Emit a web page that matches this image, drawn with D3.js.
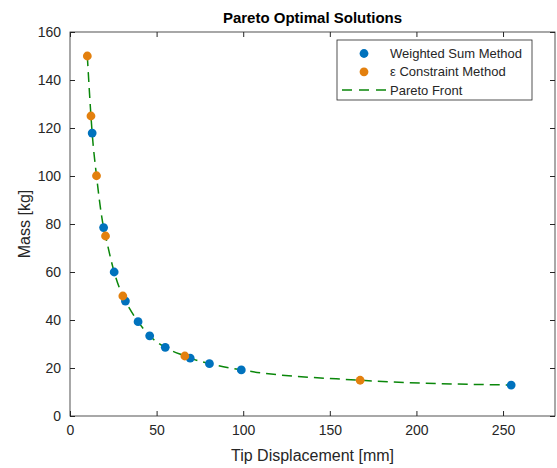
<!DOCTYPE html>
<html>
<head>
<meta charset="utf-8">
<script src="https://cdn.jsdelivr.net/npm/d3@7"></script>
<style>
  body { margin: 0; background: #fff; }
  text { font-family: "Liberation Sans", Arial, Helvetica, sans-serif; fill: #262626; }
</style>
</head>
<body>
<div id="chart"></div>
<script>
// weighted sum results: tip displacement [mm], mass [kg]
var wsDisp = [12.8, 19.4, 25.5, 32, 39.3, 46, 55, 69.4, 80.5, 98.9, 254.7];
var wsMass = [117.9, 78.5, 60, 47.9, 39.3, 33.4, 28.6, 24.1, 21.8, 19.2, 12.9];

// epsilon constraint results
var ecDisp = [10, 12.1, 15.3, 20.5, 30.5, 66.3, 167.5];
var ecMass = [150, 125, 100.1, 75, 50, 25, 14.9];

var xTicks = [0, 50, 100, 150, 200, 250];
var yTicks = [0, 20, 40, 60, 80, 100, 120, 140, 160];

var svgWidth = 557;
var svgHeight = 468;
var margin = { top: 32, right: 2, bottom: 52, left: 70 };
var width = svgWidth - margin.left - margin.right;
var height = svgHeight - margin.top - margin.bottom;

var blue = "#0072bd";
var orange = "#e3800e";
var green = "#0a870a";

var svg = d3.select("#chart").append("svg")
    .attr("width", svgWidth)
    .attr("height", svgHeight);

var g = svg.append("g")
    .attr("transform", "translate(" + margin.left + "," + margin.top + ")");

var xScale = d3.scaleLinear().domain([0, 280]).range([0, width]);
var yScale = d3.scaleLinear().domain([0, 160]).range([height, 0]);

var ws = wsDisp.map((d, i) => ({ x: d, y: wsMass[i] }));
var ec = ecDisp.map((d, i) => ({ x: d, y: ecMass[i] }));
var front = ws.concat(ec).sort((a, b) => a.x - b.x);

// axes, matlab style: ticks pointing inward, mirrored on top and right
var axisColor = "#262626";
function styleAxis(sel) {
    sel.select(".domain").remove();
    sel.selectAll("line").attr("stroke", axisColor);
    sel.selectAll("text").style("font-size", "14px").style("fill", axisColor);
}

g.append("g")
    .attr("transform", "translate(0," + height + ")")
    .call(d3.axisBottom(xScale).tickValues(xTicks).tickSizeInner(-5).tickSizeOuter(0).tickPadding(9))
    .call(styleAxis);

g.append("g")
    .call(d3.axisTop(xScale).tickValues(xTicks).tickSizeInner(-5).tickSizeOuter(0).tickFormat(""))
    .call(styleAxis);

g.append("g")
    .call(d3.axisLeft(yScale).tickValues(yTicks).tickSizeInner(-5).tickSizeOuter(0).tickPadding(9))
    .call(styleAxis);

g.append("g")
    .attr("transform", "translate(" + width + ",0)")
    .call(d3.axisRight(yScale).tickValues(yTicks).tickSizeInner(-5).tickSizeOuter(0).tickFormat(""))
    .call(styleAxis);

g.append("rect")
    .attr("width", width)
    .attr("height", height)
    .attr("fill", "none")
    .attr("stroke", axisColor)
    .attr("stroke-width", 0.8);

// pareto front
var line = d3.line()
    .x(d => xScale(d.x))
    .y(d => yScale(d.y))
    .curve(d3.curveMonotoneX);

g.append("path")
    .datum(front)
    .attr("d", line)
    .attr("fill", "none")
    .attr("stroke", green)
    .attr("stroke-width", 1.5)
    .attr("stroke-dasharray", "10,6");

g.selectAll(".ws")
    .data(ws)
    .enter().append("circle")
    .attr("cx", d => xScale(d.x))
    .attr("cy", d => yScale(d.y))
    .attr("r", 4.4)
    .attr("fill", blue);

g.selectAll(".ec")
    .data(ec)
    .enter().append("circle")
    .attr("cx", d => xScale(d.x))
    .attr("cy", d => yScale(d.y))
    .attr("r", 4.4)
    .attr("fill", orange);

// legend
var legend = svg.append("g").attr("transform", "translate(337,40)");
legend.append("rect")
    .attr("width", 195)
    .attr("height", 60)
    .attr("fill", "#fff")
    .attr("stroke", axisColor)
    .attr("stroke-width", 0.8);

var entries = [
    { label: "Weighted Sum Method", type: "dot", color: blue },
    { label: "ε Constraint Method", type: "dot", color: orange },
    { label: "Pareto Front", type: "line", color: green }
];

entries.forEach(function (e, i) {
    var y = 13.5 + i * 18.3;
    if (e.type == "dot") {
        legend.append("circle").attr("cx", 27).attr("cy", y).attr("r", 4.4).attr("fill", e.color);
    } else {
        legend.append("line")
            .attr("x1", 5).attr("x2", 50).attr("y1", y).attr("y2", y)
            .attr("stroke", e.color).attr("stroke-width", 1.5)
            .attr("stroke-dasharray", "10,7");
    }
    legend.append("text")
        .attr("x", 53)
        .attr("y", y)
        .attr("dy", "0.35em")
        .style("font-size", "13px")
        .text(e.label);
});

// titles
svg.append("text")
    .attr("x", margin.left + width / 2)
    .attr("y", 23)
    .style("text-anchor", "middle")
    .style("font-size", "15px")
    .style("font-weight", "bold")
    .style("fill", "#000")
    .text("Pareto Optimal Solutions");

svg.append("text")
    .attr("x", margin.left + width / 2)
    .attr("y", 461)
    .style("text-anchor", "middle")
    .style("font-size", "16px")
    .text("Tip Displacement [mm]");

svg.append("text")
    .attr("transform", "rotate(-90)")
    .attr("x", -(margin.top + height / 2))
    .attr("y", 30)
    .style("text-anchor", "middle")
    .style("font-size", "16px")
    .text("Mass [kg]");
</script>
</body>
</html>
